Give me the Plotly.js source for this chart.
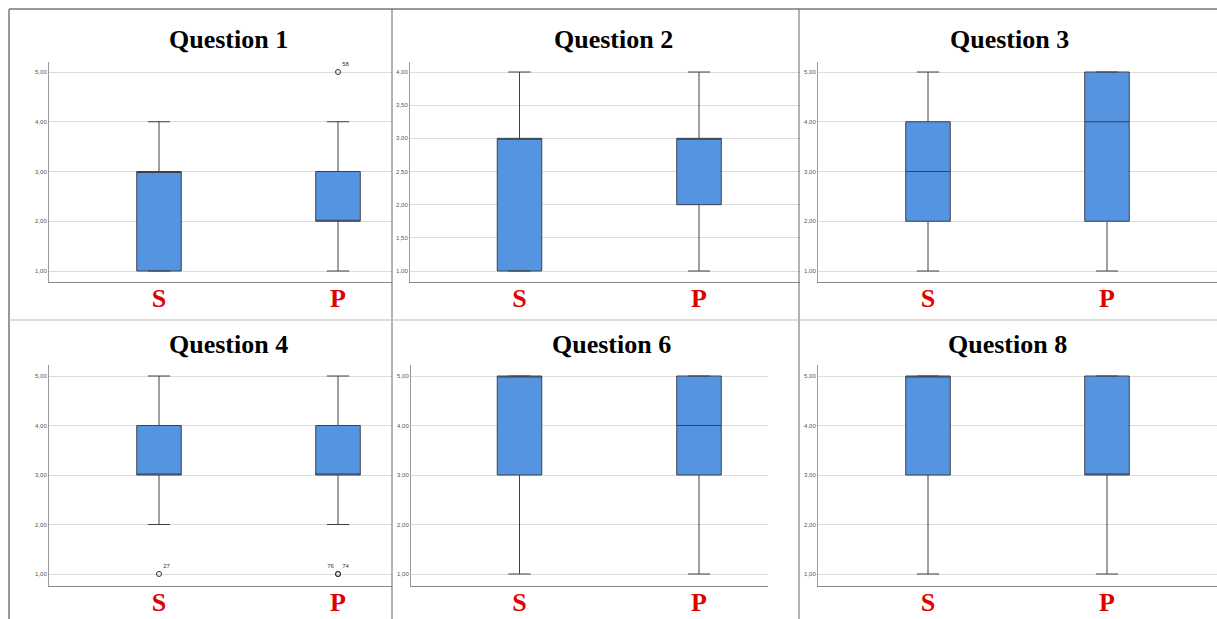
<!DOCTYPE html>
<html><head><meta charset="utf-8">
<script src="https://cdn.plot.ly/plotly-3.0.1.min.js"></script>
<style>html,body{margin:0;padding:0;background:#fff}#chart{width:1217px;height:619px}</style>
</head><body><div id="chart"></div>
<script>
// ---- data ----
const groups = ["S", "P"];
const panelTitles = ["Question 1", "Question 2", "Question 3", "Question 4", "Question 6", "Question 8"];
const lowerFence = [[1, 1], [1, 1], [1, 1], [2, 2], [1, 1], [1, 1]];
const q1Values   = [[1, 2], [1, 2], [2, 2], [3, 3], [3, 3], [3, 3]];
const medians    = [[3, 2], [3, 3], [3, 4], [3, 3], [5, 4], [5, 3]];
const q3Values   = [[3, 3], [3, 3], [4, 5], [4, 4], [5, 5], [5, 5]];
const upperFence = [[4, 4], [4, 4], [5, 5], [5, 5], [5, 5], [5, 5]];
const yTickValues = [
  [1, 2, 3, 4, 5],
  [1, 1.5, 2, 2.5, 3, 3.5, 4],
  [1, 2, 3, 4, 5],
  [1, 2, 3, 4, 5],
  [1, 2, 3, 4, 5],
  [1, 2, 3, 4, 5]
];
const outlierPanel = [0, 3, 3, 3];
const outlierGroup = ["P", "S", "P", "P"];
const outlierValue = [5, 1, 1, 1];
const outlierLabel = ["58", "27", "76", "74"];
const outlierLabelPos = ["top right", "top right", "top left", "top right"];

// ---- layout geometry (pixels in a 1217x619 page) ----
const W = 1217, H = 619;
const px = v => v / W;
const py = v => 1 - v / H;
// [left, right, top, bottom] of each plot area
const areas = [
  [49, 392, 62, 282], [410, 800, 62, 282], [818, 1217, 62, 282],
  [49, 392, 365, 586], [411, 768, 365, 586], [818, 1217, 365, 586]
];
// x pixel of S and P box centres
const centres = [[159, 338], [519.5, 699], [928, 1107], [159, 338], [519.5, 699], [928, 1107]];
// y pixel of lowest and highest tick values
const tickPix = [[271, 72], [271, 72], [271, 72], [574, 376], [574, 376], [574, 376]];
const titlePos = [[229, 39], [613, 39], [1009, 39], [228, 344], [611, 344], [1007.5, 344]];
const boxPx = 44.5;

const traces = [];
const layout = {
  width: W, height: H,
  margin: {l: 0, r: 0, t: 0, b: 0},
  paper_bgcolor: "#fff", plot_bgcolor: "#fff",
  showlegend: false,
  separators: ",.",
  annotations: [],
  shapes: []
};

for (let i = 0; i < 6; i++) {
  const sfx = i === 0 ? "" : String(i + 1);
  const [l, r, t, b] = areas[i];
  const [cS, cP] = centres[i];
  const spacing = cP - cS;
  const xr = [-(cS - l) / spacing, 1 + (r - cP) / spacing];
  const ticks = yTickValues[i];
  const vLo = ticks[0], vHi = ticks[ticks.length - 1];
  const [pLo, pHi] = tickPix[i];
  const unit = (pLo - pHi) / (vHi - vLo);
  const yr = [vLo - (b - pLo) / unit, vHi + (pHi - t) / unit];

  traces.push({
    type: "box",
    x: groups,
    q1: q1Values[i], median: medians[i], q3: q3Values[i],
    lowerfence: lowerFence[i], upperfence: upperFence[i],
    width: boxPx / spacing,
    whiskerwidth: 0.5,
    fillcolor: "#5594e0",
    line: {color: "#3d4149", width: 1},
    boxpoints: false,
    hoverinfo: "skip",
    xaxis: "x" + sfx, yaxis: "y" + sfx
  });

  const ox = [], oy = [], ot = [], op = [];
  outlierPanel.forEach((p, k) => {
    if (p === i) { ox.push(outlierGroup[k]); oy.push(outlierValue[k]); ot.push(outlierLabel[k]); op.push(outlierLabelPos[k]); }
  });
  if (ox.length) {
    traces.push({
      type: "scatter", mode: "markers+text",
      x: ox, y: oy, text: ot, textposition: op,
      textfont: {family: "Liberation Sans, Arial", size: 6, color: "#333"},
      marker: {symbol: "circle-open", size: 5, color: "#333", line: {width: 1, color: "#333"}},
      cliponaxis: false, hoverinfo: "skip",
      xaxis: "x" + sfx, yaxis: "y" + sfx
    });
  }

  layout["xaxis" + sfx] = {
    domain: [px(l), px(r)], anchor: "y" + sfx,
    type: "category", categoryorder: "array", categoryarray: groups,
    range: xr, fixedrange: true,
    showline: true, linecolor: "#8a8a8a", linewidth: 1,
    showgrid: false, zeroline: false, ticks: "",
    ticklabelstandoff: -7,
    tickfont: {family: "Liberation Serif, Times New Roman, serif", size: 26, color: "#e00000", weight: "bold"}
  };
  layout["yaxis" + sfx] = {
    domain: [py(b), py(t)], anchor: "x" + sfx,
    range: yr, fixedrange: true,
    tickvals: ticks, tickformat: ".2f",
    showline: true, linecolor: "#9a9a9a", linewidth: 1,
    showgrid: true, gridcolor: "#dcdcdc", gridwidth: 1,
    zeroline: false, ticks: "",
    tickfont: {family: "Liberation Sans, Arial", size: 6, color: "#555"}
  };
  layout.annotations.push({
    text: panelTitles[i], xref: "paper", yref: "paper",
    x: px(titlePos[i][0]), y: py(titlePos[i][1]), xanchor: "center", yanchor: "middle",
    showarrow: false,
    font: {family: "Liberation Serif, Times New Roman, serif", size: 26, color: "#000", weight: "bold"}
  });
}

// frame lines of the collage
const line = (x0, y0, x1, y1, color, w) => ({type: "line", xref: "paper", yref: "paper",
  x0: px(x0), y0: py(y0), x1: px(x1), y1: py(y1), line: {color: color, width: w}, layer: "above"});
layout.shapes.push(line(9, 9, 1217, 9, "#999", 2));
layout.shapes.push(line(9, 9, 9, 619, "#999", 2));
layout.shapes.push(line(392, 9, 392, 619, "#666", 1));
layout.shapes.push(line(799, 9, 799, 619, "#666", 1));
layout.shapes.push(line(9, 320, 1217, 320, "#bbb", 1));

Plotly.newPlot("chart", traces, layout, {displayModeBar: false, staticPlot: true});
</script>
</body></html>
